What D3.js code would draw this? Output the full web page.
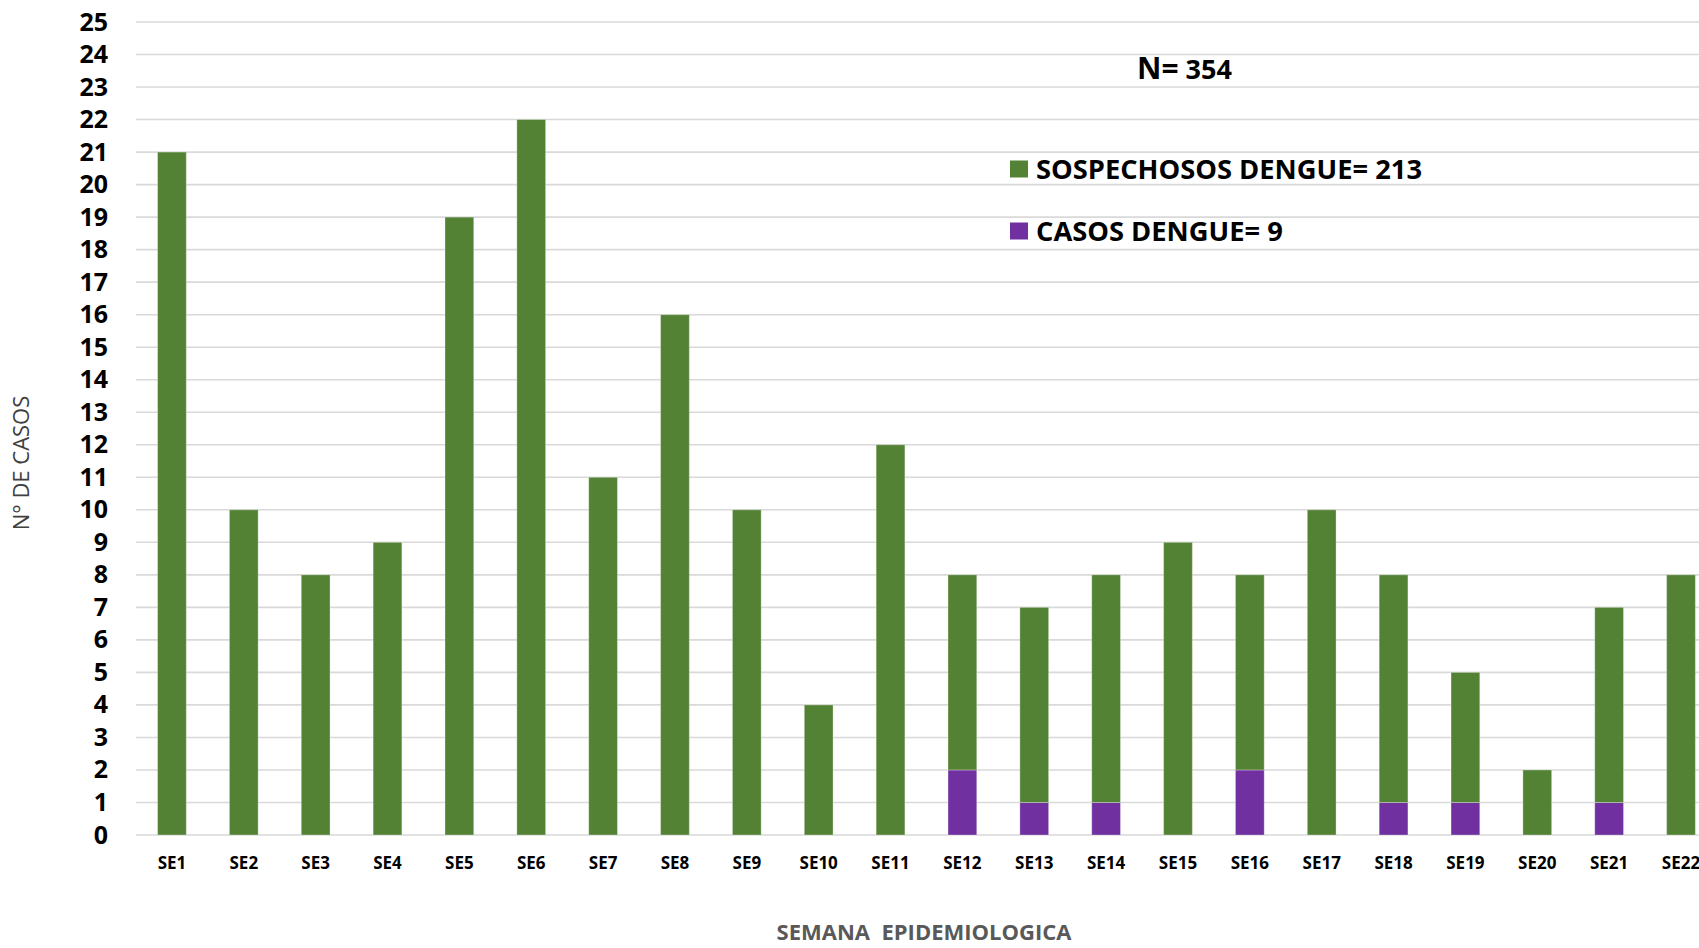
<!DOCTYPE html>
<html><head><meta charset="utf-8">
<script src="https://cdn.jsdelivr.net/npm/d3@7"></script>
<style>body{margin:0;background:#fff}svg{display:block}</style>
</head><body>
<script>
const categories = ["SE1","SE2","SE3","SE4","SE5","SE6","SE7","SE8","SE9","SE10","SE11","SE12","SE13","SE14","SE15","SE16","SE17","SE18","SE19","SE20","SE21","SE22"];
const casos = [0,0,0,0,0,0,0,0,0,0,0,2,1,1,0,2,0,1,1,0,1,0];
const sospechosos = [21,10,8,9,19,22,11,16,10,4,12,6,6,7,9,6,10,7,4,2,6,8];
const yTicks = d3.range(0, 26);
const seriesNames = ["CASOS DENGUE= 9", "SOSPECHOSOS DENGUE= 213"];
const colors = {casos:"#7030A0", sospechosos:"#548235"};

const W = 1699, H = 948;
const left = 136, step = 71.86;
const svg = d3.select("body").append("svg").attr("width", W).attr("height", H);

const x = d3.scaleBand().domain(categories).range([left, left + step*categories.length]).paddingInner(0.6).paddingOuter(0.3);
const y = d3.scaleLinear().domain([0,25]).range([835, 22]);

// grid
svg.append("g").selectAll("line").data(yTicks).join("line")
  .attr("x1", left).attr("x2", W)
  .attr("y1", d=>y(d)).attr("y2", d=>y(d))
  .attr("stroke", "#d9d9d9").attr("stroke-width", 1.6);

const font = "'Open Sans', Calibri, sans-serif";
// y axis labels
const yAxis = d3.axisLeft(y).tickValues(yTicks).tickSize(0).tickPadding(0).tickFormat(d3.format("d"));
const gy = svg.append("g").attr("transform", "translate(108,0)").call(yAxis);
gy.select(".domain").remove();
gy.selectAll("text").attr("font-family", font).attr("font-weight", 700).attr("font-size", 25).attr("fill", "#000");

// bars
const data = categories.map((c,i)=>({c, casos:casos[i], sospechosos:sospechosos[i]}));
const stack = d3.stack().keys(["casos","sospechosos"])(data);
svg.append("g").selectAll("g").data(stack).join("g")
  .attr("fill", d=>colors[d.key])
  .selectAll("rect").data(d=>d.filter(p=>p[1]-p[0]>0)).join("rect")
  .attr("x", d=>x(d.data.c)).attr("width", x.bandwidth())
  .attr("y", d=>y(d[1])).attr("height", d=>y(d[0])-y(d[1]))
  .attr("stroke", "rgba(255,255,255,0.3)").attr("stroke-width", 1);

// x labels
const xAxis = d3.axisBottom(x).tickSize(0).tickPadding(0);
const gx = svg.append("g").attr("transform", "translate(0,863)").call(xAxis);
gx.select(".domain").remove();
gx.selectAll("text").attr("dy", "0.35em").attr("font-family", font).attr("font-weight", 700).attr("font-size", 17).attr("fill", "#000");

// axis titles
svg.append("text").attr("transform", "translate(29,463) rotate(-90)")
  .attr("text-anchor", "middle").attr("font-family", font).attr("font-size", 22).attr("fill", "#404040").text("N° DE CASOS");
svg.append("text").attr("x", 924).attr("y", 940).attr("text-anchor", "middle")
  .attr("font-family", font).attr("font-weight", 700).attr("font-size", 22).attr("fill", "#595959")
  .attr("xml:space","preserve").style("white-space","pre").text("SEMANA  EPIDEMIOLOGICA");

// N
const nt = svg.append("text").attr("x", 1137).attr("y", 79).attr("font-family", font).attr("font-weight", 700).attr("fill", "#000");
nt.append("tspan").attr("font-size", 30).text("N=");
nt.append("tspan").attr("font-size", 27).text(" 354");

// legend
const leg = [{name: seriesNames[1], color: colors.sospechosos, cy: 169}, {name: seriesNames[0], color: colors.casos, cy: 231}];
const lg = svg.append("g").selectAll("g").data(leg).join("g");
lg.append("rect").attr("x", 1010).attr("y", d=>d.cy-8.5).attr("width", 18).attr("height", 17).attr("fill", d=>d.color);
lg.append("text").attr("x", 1036).attr("y", d=>d.cy).attr("dy", "0.35em")
  .attr("font-family", font).attr("font-weight", 700).attr("font-size", 27.3).attr("fill", "#000").text(d=>d.name);
</script>
</body></html>
